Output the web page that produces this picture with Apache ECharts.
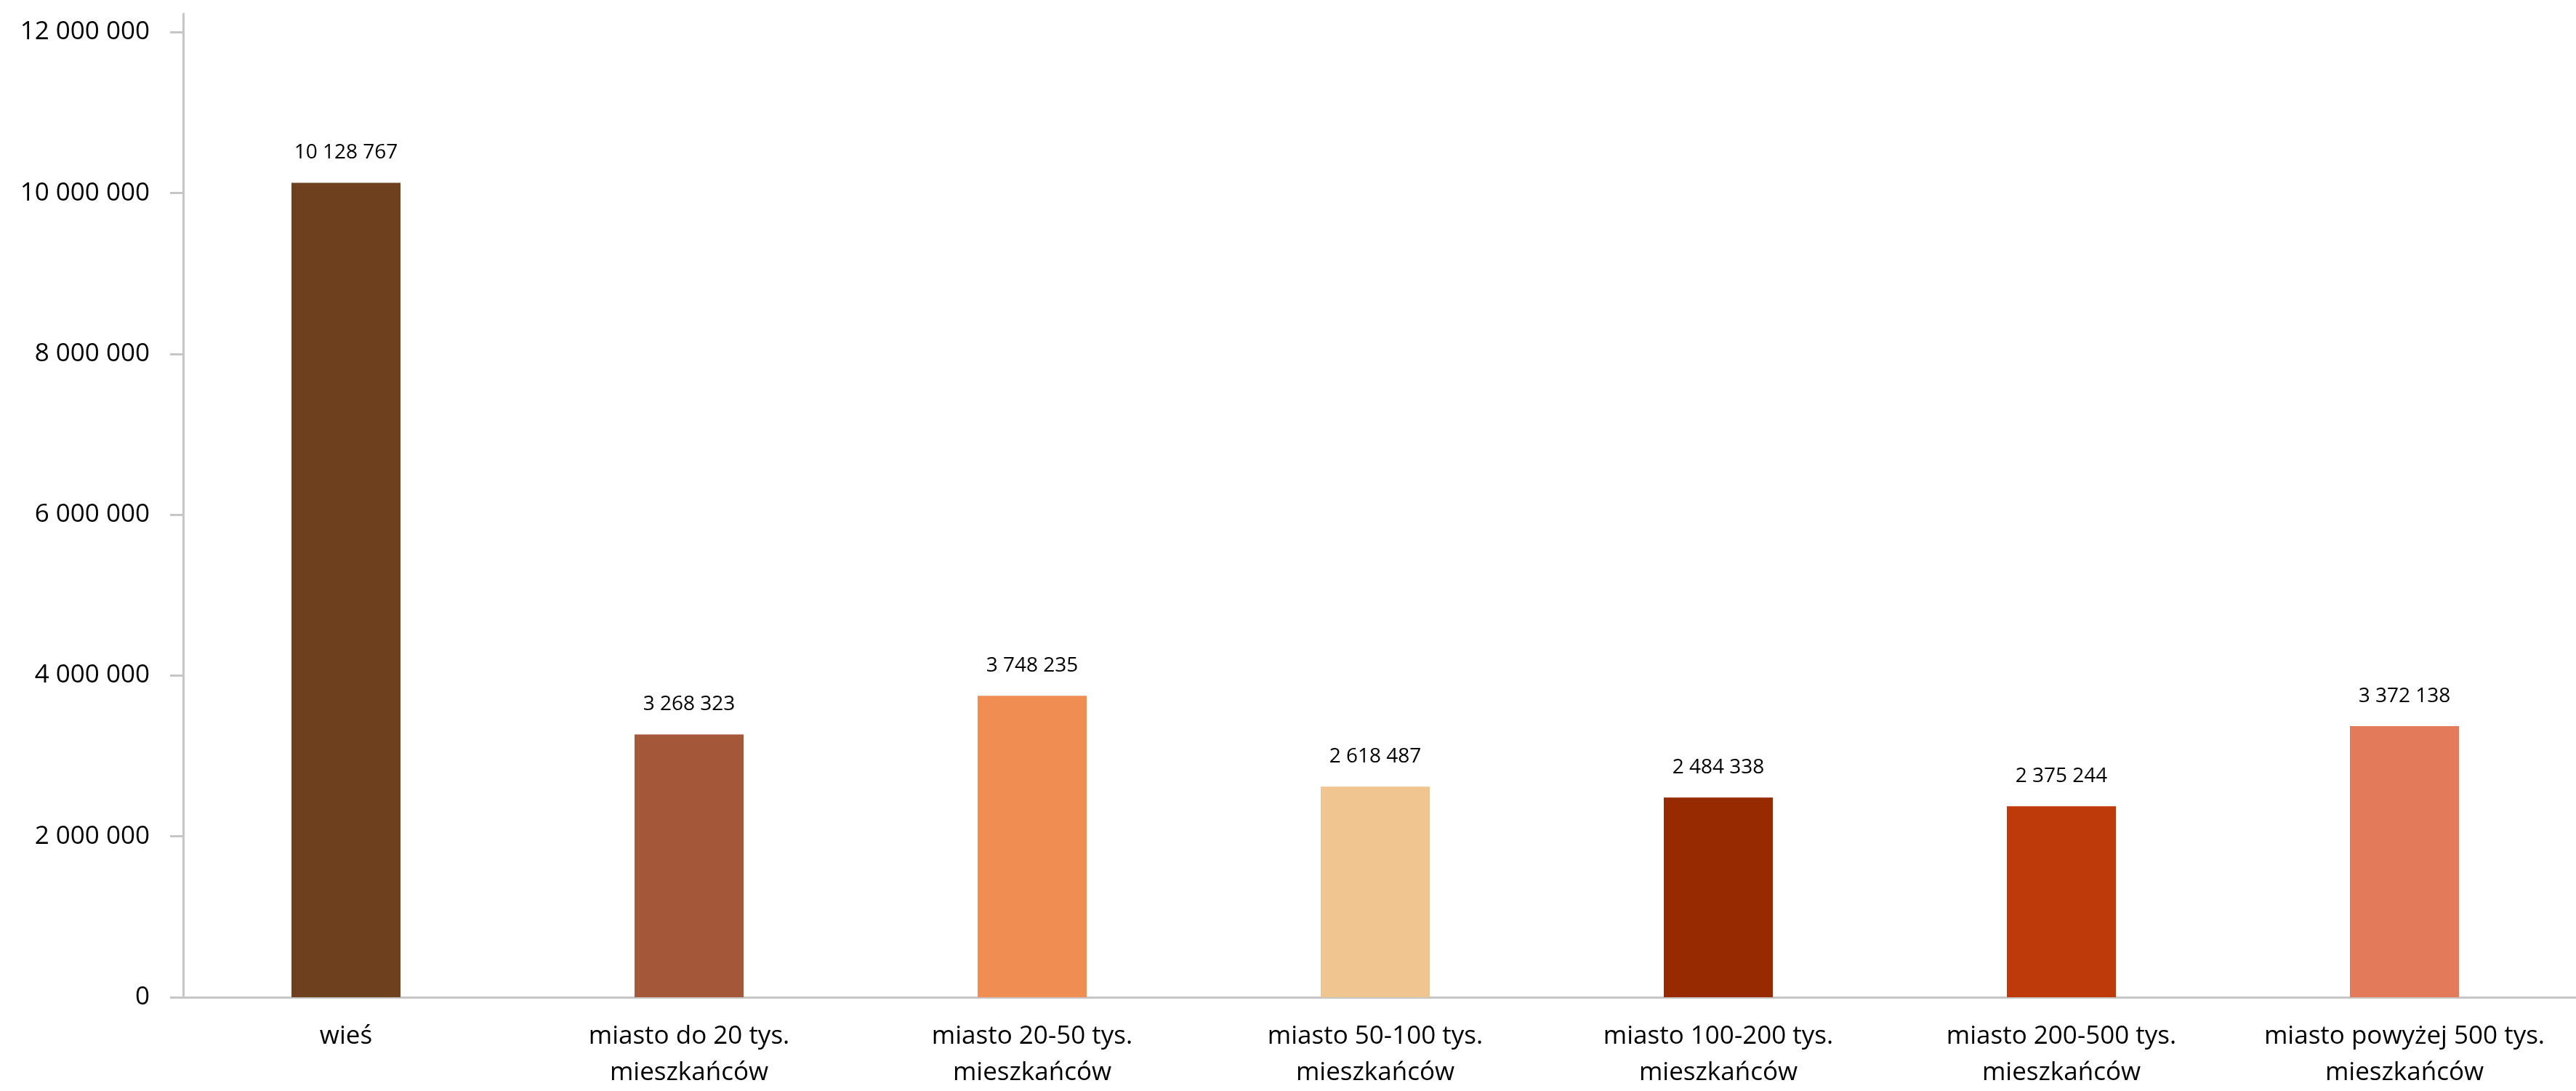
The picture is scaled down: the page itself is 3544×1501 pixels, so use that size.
<!DOCTYPE html>
<html>
<head>
<meta charset="utf-8">
<script src="https://cdn.jsdelivr.net/npm/echarts@6/dist/echarts.min.js"></script>
<style>
html,body{margin:0;padding:0;background:#fff;}
#chart{width:3544px;height:1501px;}
</style>
</head>
<body>
<div id="chart"></div>
<script>
const categories = [
  "wieś",
  "miasto do 20 tys.\nmieszkańców",
  "miasto 20-50 tys.\nmieszkańców",
  "miasto 50-100 tys.\nmieszkańców",
  "miasto 100-200 tys.\nmieszkańców",
  "miasto 200-500 tys.\nmieszkańców",
  "miasto powyżej 500 tys.\nmieszkańców"
];
const values = [10128767, 3268323, 3748235, 2618487, 2484338, 2375244, 3372138];
const barColors = ["#6E401E", "#A5573A", "#F08D53", "#F0C590", "#982A02", "#BE3A0A", "#E37B5A"];
const yTicks = [0, 2000000, 4000000, 6000000, 8000000, 10000000, 12000000];

function fmt(v) {
  return String(v).replace(/\B(?=(\d{3})+(?!\d))/g, ' ');
}

const FONT = "Open Sans";
const chart = echarts.init(document.getElementById('chart'));
chart.setOption({
  animation: false,
  backgroundColor: '#ffffff',
  grid: { left: 240, width: 3337, top: 19, bottom: 119, containLabel: false },
  xAxis: {
    type: 'category',
    data: categories,
    axisLine: { show: true, lineStyle: { color: '#c6c6c6', width: 3 } },
    axisTick: { show: false },
    axisLabel: {
      interval: 0,
      color: '#000',
      fontFamily: FONT,
      fontSize: 35,
      lineHeight: 50,
      margin: 29
    }
  },
  yAxis: {
    type: 'value',
    min: 0,
    max: 12230000,
    interval: 2000000,
    offset: -12,
    splitLine: { show: false },
    axisLine: { show: true, lineStyle: { color: '#c6c6c6', width: 3 } },
    axisTick: { show: true, length: 18, lineStyle: { color: '#c6c6c6', width: 3 }, customValues: yTicks },
    axisLabel: {
      color: '#000',
      fontFamily: FONT,
      fontSize: 35,
      margin: 46,
      customValues: yTicks,
      formatter: function (v) { return fmt(v); }
    }
  },
  series: [{
    type: 'bar',
    barWidth: 150,
    data: values.map(function (v, i) { return { value: v, itemStyle: { color: barColors[i] } }; }),
    label: {
      show: true,
      position: 'top',
      distance: 27,
      color: '#000',
      fontFamily: FONT,
      fontSize: 28,
      formatter: function (p) { return fmt(p.value); }
    }
  }]
});
</script>
</body>
</html>
